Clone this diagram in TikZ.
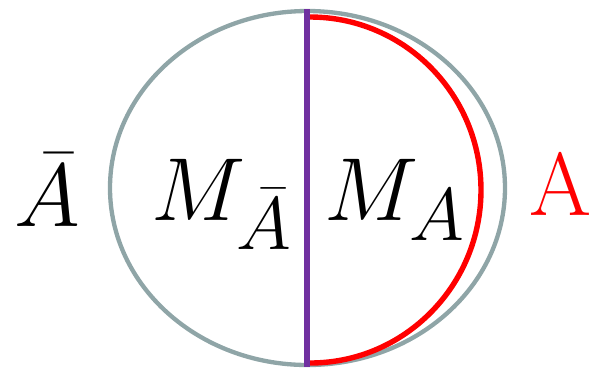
\documentclass[tikz,border=0pt]{standalone}
\usepackage{tikz}
\definecolor{colrim}{HTML}{8FA5A7}
\definecolor{colcut}{HTML}{7030A0}
\begin{document}
\begin{tikzpicture}[
  x=0.278pt,y=0.278pt,
  font=\Huge,
  rim/.style={draw=colrim,line width=1.2pt},
  cut/.style={draw=colcut,line width=1.4pt},
  lobe/.style={draw=red,line width=1.5pt},
  lbl/.style={inner sep=0pt,anchor=base},
]
  \useasboundingbox (0,0) rectangle (600,370);
  % ---------------- conjunto ----------------
  \draw[rim] (307.5,182) ellipse [x radius=197.5, y radius=177];
  \draw[lobe] (310,353) arc [start angle=90, end angle=-90, x radius=171, y radius=173];
  \coordinate (top) at (307,361);
  \coordinate (bot) at (307,3);
  \draw[cut] (top) -- (bot);
  % ---------------- etiquetas ----------------
  \node[lbl] (abar) at (47,144)  {$\bar{A}$};
  \node[lbl] (mbar) at (222,150) {$M_{\bar{A}}$};
  \node[lbl] (ma)   at (395,150) {$M_A$};
  \node[lbl,text=red] (aa) at (561,155) {A};
\end{tikzpicture}
\end{document}
